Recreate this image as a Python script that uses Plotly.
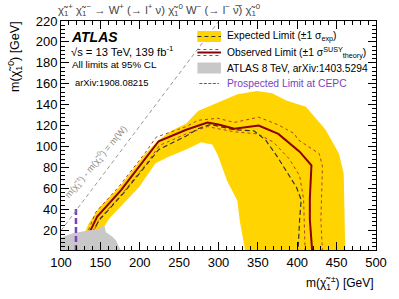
import plotly.graph_objects as go

# ---------------- data ----------------
# expected-limit +-1 sigma band: outer (upper) boundary, left -> right
band_outer_x = [129, 135, 149, 174, 207, 224, 240, 259, 274, 299, 324, 349, 368, 386, 411, 436, 453, 459, 460, 461]
band_outer_y = [15, 26, 42, 61, 93, 106, 115, 122, 134, 142, 150, 153, 151, 144, 138, 116, 93, 74, 40, 0]
# inner (lower) boundary, left -> right
band_inner_x = [148, 161, 199, 220, 236, 259, 278, 292, 299, 311, 324, 327, 334]
band_inner_y = [15, 31, 61, 84, 90, 97, 104, 102, 92, 67, 48, 29, 0]

# expected limit (dashed)
exp_x = [139, 149, 179, 211, 224, 259, 274, 290, 320, 345, 360, 374, 386, 399, 405, 403, 401]
exp_y = [17, 30, 55, 85, 97, 110, 117, 121, 116, 115, 106, 91, 77, 61, 49, 30, 0]

# observed limit
obs_x = [137, 146, 176, 209, 224, 259, 274, 286, 300, 320, 351, 376, 403, 418, 416, 416, 419]
obs_y = [19, 33, 58, 90, 105, 116, 120, 123, 121, 117, 120, 112, 95, 82, 50, 30, 0]

# observed +1 sigma theory
obs_up_x = [135, 144, 174, 207, 221, 259, 274, 299, 320, 351, 375, 397, 400, 428, 432, 430, 432]
obs_up_y = [20, 37, 62, 94, 109, 119, 125, 127, 123, 128, 121, 112, 107, 93, 81, 30, 0]
# observed -1 sigma theory
obs_dn_x = [140, 148, 178, 211, 225, 259, 286, 320, 350, 370, 390, 403, 408, 410]
obs_dn_y = [16, 30, 55, 86, 101, 112, 119, 114, 112, 104, 88, 72, 50, 0]

# ATLAS 8 TeV excluded region
atlas8_x = [100, 100, 115, 132, 149, 155, 157, 165, 170, 176]
atlas8_y = [0, 13, 17, 19.5, 21.5, 25, 18, 14, 10, 0]

# prospected CEPC limit
cepc_x = [119, 119]
cepc_y = [0, 41]

# kinematic line m(chi1+-) - m(chi10) = m(W)
mW = 80.4
diag_x = [100, 320]
diag_y = [x - mW for x in diag_x]

x_ticks = [100, 150, 200, 250, 300, 350, 400, 450, 500]
y_ticks = [20, 40, 60, 80, 100, 120, 140, 160, 180, 200, 220]

# ---------------- figure ----------------
FONT = "Liberation Sans, Arial, Helvetica, sans-serif"
CHI = "\u03c7\u0303"
YELLOW = "#FFD400"
RED = "#8B0000"
GREY = "#C8C8C8"
PURPLE = "#7B3FC0"

fig = go.Figure()

fig.add_trace(go.Scatter(
    x=band_outer_x + band_inner_x[::-1], y=band_outer_y + band_inner_y[::-1],
    fill="toself", fillcolor=YELLOW, line=dict(width=0), mode="lines",
    hoverinfo="skip", showlegend=False))
fig.add_trace(go.Scatter(x=obs_up_x, y=obs_up_y, mode="lines",
                         line=dict(color="#B0402A", width=1, dash="dot"), showlegend=False))
fig.add_trace(go.Scatter(x=obs_dn_x, y=obs_dn_y, mode="lines",
                         line=dict(color="#B0402A", width=1, dash="dot"), showlegend=False))
fig.add_trace(go.Scatter(x=exp_x, y=exp_y, mode="lines",
                         line=dict(color="#333333", width=1.2, dash="5px,3px"), showlegend=False))
fig.add_trace(go.Scatter(x=obs_x, y=obs_y, mode="lines",
                         line=dict(color=RED, width=2), showlegend=False))
fig.add_trace(go.Scatter(x=atlas8_x, y=atlas8_y, fill="toself", fillcolor=GREY,
                         line=dict(width=0), mode="lines", showlegend=False))
fig.add_trace(go.Scatter(x=cepc_x, y=cepc_y, mode="lines",
                         line=dict(color=PURPLE, width=2.5, dash="6px,3px"), showlegend=False))
fig.add_trace(go.Scatter(x=diag_x, y=diag_y, mode="lines",
                         line=dict(color="#999999", width=1, dash="4px,3px"), showlegend=False))

L, R, T, B = 61, 17, 21, 49
W, H = 399, 299
PW, PH = W - L - R, H - T - B


def px(xp):
    return (xp - L) / PW


def py(yp):
    return (H - B - yp) / PH


ann = []
shapes = []


def text(x, y, s, size, color="black", xanchor="left", **kw):
    ann.append(dict(x=px(x), y=py(y), xref="paper", yref="paper", text=s, showarrow=False,
                    xanchor=xanchor, yanchor="middle", font=dict(size=size, color=color, family=FONT), **kw))


# header process
text(56, 10, f"{CHI}<sub>1</sub><sup>+</sup> {CHI}<sub>1</sub><sup>\u2212</sup> \u2192 W<sup>+</sup> (\u2192 l<sup>+</sup> \u03bd) "
     f"{CHI}<sub>1</sub><sup>0</sup> W<sup>\u2212</sup> (\u2192 l<sup>\u2212</sup> \u03bd\u0305) {CHI}<sub>1</sub><sup>0</sup>",
     11.3, "#444444")
text(69, 37, "<b><i>ATLAS</i></b>", 14)
text(69, 50.5, "\u221as = 13 TeV, 139 fb<sup>-1</sup>", 11.2)
text(70, 64, "All limits at 95% CL", 9.8)
text(73, 82, "arXiv:1908.08215", 9.4)

# legend
LEG = 10.3
shapes.append(dict(type="rect", xref="paper", yref="paper", x0=px(200), x1=px(224), y0=py(42), y1=py(31),
                   fillcolor=YELLOW, line=dict(width=0)))
shapes.append(dict(type="line", xref="paper", yref="paper", x0=px(200), x1=px(224), y0=py(36.5), y1=py(36.5),
                   line=dict(color="#333333", width=1.2, dash="4px,3px")))
text(228, 36.5, "Expected Limit (\u00b11 \u03c3<sub>exp</sub>)", LEG)

shapes.append(dict(type="line", xref="paper", yref="paper", x0=px(200), x1=px(224), y0=py(52.5), y1=py(52.5),
                   line=dict(color=RED, width=2)))
for yy in (49.5, 55.5):
    shapes.append(dict(type="line", xref="paper", yref="paper", x0=px(200), x1=px(224), y0=py(yy), y1=py(yy),
                       line=dict(color="#B0402A", width=1, dash="dot")))
text(228, 52.5, "Observed Limit (\u00b11 \u03c3<sup>SUSY</sup><sub>theory</sub>)", LEG)

shapes.append(dict(type="rect", xref="paper", yref="paper", x0=px(200), x1=px(224), y0=py(73.5), y1=py(62.5),
                   fillcolor=GREY, line=dict(width=0)))
text(228, 68, "ATLAS 8 TeV, arXiv:1403.5294", LEG)

shapes.append(dict(type="line", xref="paper", yref="paper", x0=px(202), x1=px(222), y0=py(83.5), y1=py(83.5),
                   line=dict(color=PURPLE, width=1, dash="3px,1.5px")))
text(228, 83.5, "Prospected Limit at CEPC", LEG, PURPLE)

# diagonal label
ann.append(dict(x=144, y=86, xref="x", yref="y", showarrow=False, textangle=-50,
                text=f"m({CHI}<sub>1</sub><sup>\u00b1</sup>) - m({CHI}<sub>1</sub><sup>0</sup>) = m(W)",
                font=dict(size=9, color="#888888", family=FONT)))

# axis titles
ann.append(dict(x=px(382), y=py(283), xref="paper", yref="paper", showarrow=False, xanchor="right",
                yanchor="middle", text=f"m({CHI}<sub>1</sub><sup>\u00b1</sup>) [GeV]",
                font=dict(size=12, family=FONT, color="black")))
ann.append(dict(x=px(14), y=py(20), xref="paper", yref="paper", showarrow=False, xanchor="center",
                yanchor="top", textangle=-90, text=f"m({CHI}<sub>1</sub><sup>0</sup>) [GeV]",
                font=dict(size=12.5, family=FONT, color="black")))

axis_common = dict(showline=True, linecolor="black", linewidth=1, mirror="ticks", ticks="inside",
                   tickcolor="black", tickwidth=1, showgrid=False, zeroline=False,
                   tickfont=dict(size=13, family=FONT, color="black"))

fig.update_layout(
    width=W, height=H, margin=dict(l=L, r=R, t=T, b=B),
    paper_bgcolor="white", plot_bgcolor="white", showlegend=False,
    xaxis=dict(range=[100, 500], tickvals=x_ticks, ticklen=8,
               minor=dict(dtick=10, tick0=100, ticks="inside", ticklen=4, tickcolor="black"), **axis_common),
    yaxis=dict(range=[1, 220], tickvals=y_ticks, ticklen=8,
               minor=dict(dtick=4, tick0=0, ticks="inside", ticklen=4, tickcolor="black"), **axis_common),
    annotations=ann, shapes=shapes,
)

fig.write_html("out.html", config={"displayModeBar": False},
               post_script="document.body.style.margin='0';document.body.style.padding='0';")
